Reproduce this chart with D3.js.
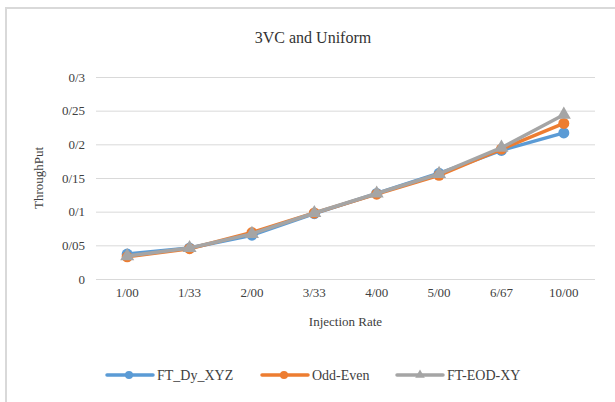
<!DOCTYPE html>
<html>
<head>
<meta charset="utf-8">
<script src="https://cdn.jsdelivr.net/npm/d3@7"></script>
<style>
  body { margin: 0; background: #fff; }
  svg { display: block; }
  svg text { font-family: "Liberation Serif", "Times New Roman", serif; }
</style>
</head>
<body>
<script>
// categories (injection rate) and the three series
const rates = ["1/00", "1/33", "2/00", "3/33", "4/00", "5/00", "6/67", "10/00"];
const ftDyXYZ = [0.037, 0.046, 0.065, 0.097, 0.127, 0.157, 0.191, 0.217];
const oddEven = [0.033, 0.045, 0.069, 0.098, 0.126, 0.154, 0.193, 0.231];
const ftEodXY = [0.034, 0.046, 0.067, 0.098, 0.127, 0.156, 0.195, 0.244];
const yTicks = [0, 0.05, 0.1, 0.15, 0.2, 0.25, 0.3];
const yTickLabels = ["0", "0/05", "0/1", "0/15", "0/2", "0/25", "0/3"];

const series = [
    {name: "FT_Dy_XYZ", values: ftDyXYZ, color: "#5B9BD5", marker: "circle"},
    {name: "Odd-Even", values: oddEven, color: "#ED7D31", marker: "circle"},
    {name: "FT-EOD-XY", values: ftEodXY, color: "#A5A5A5", marker: "triangle"}
];

function main(){
    const width = 615;
    const height = 402;
    const serif = "Liberation Serif";

    const svg = d3.select("body").append("svg")
        .attr("width", width)
        .attr("height", height);

    //outer chart border (right and bottom run off the picture)
    svg.append("rect")
        .attr("x", 6).attr("y", 8)
        .attr("width", 640).attr("height", 420)
        .attr("fill", "none")
        .attr("stroke", "#D9D9D9")
        .attr("stroke-width", 2);

    svg.append("text")
        .attr("x", 313).attr("y", 43)
        .attr("text-anchor", "middle")
        .attr("font-family", serif)
        .attr("font-size", "16px")
        .attr("fill", "#333")
        .text("3VC and Uniform");

    const xScale = d3.scaleBand().domain(rates).range([96, 595]);
    const yScale = d3.scaleLinear().domain([0, 0.3]).range([279, 77]);

    //gridlines + y labels
    const yAxis = svg.append("g")
        .attr("transform", "translate(96,0)")
        .call(d3.axisLeft(yScale).tickValues(yTicks)
            .tickSize(-(595 - 96))
            .tickPadding(11)
            .tickFormat((d, i) => yTickLabels[i]));
    yAxis.attr("font-family", serif);
    yAxis.select(".domain").remove();
    yAxis.selectAll("line").attr("stroke", "#D9D9D9");
    yAxis.selectAll("text")
        .attr("font-size", "13px")
        .attr("fill", "#404040");

    //x labels
    const xAxis = svg.append("g")
        .attr("transform", "translate(0,279)")
        .call(d3.axisBottom(xScale).tickSize(0).tickPadding(9));
    xAxis.attr("font-family", serif);
    xAxis.select(".domain").remove();
    xAxis.selectAll("text")
        .attr("font-size", "13px")
        .attr("fill", "#404040");

    svg.append("text")
        .attr("x", 345.5).attr("y", 326)
        .attr("text-anchor", "middle")
        .attr("font-family", serif)
        .attr("font-size", "13px")
        .attr("fill", "#404040")
        .text("Injection Rate");

    svg.append("text")
        .attr("transform", "translate(43,178) rotate(-90)")
        .attr("text-anchor", "middle")
        .attr("font-family", serif)
        .attr("font-size", "13px")
        .attr("fill", "#404040")
        .text("ThroughPut");

    const cx = i => xScale(rates[i]) + xScale.bandwidth() / 2;
    const line = d3.line().x((d, i) => cx(i)).y(d => yScale(d));
    const tri = d3.symbol().type(d3.symbolTriangle).size(85);

    series.forEach(s => {
        const g = svg.append("g");
        g.append("path")
            .datum(s.values)
            .attr("fill", "none")
            .attr("stroke", s.color)
            .attr("stroke-width", 3.5)
            .attr("stroke-linejoin", "round")
            .attr("d", line);
        if (s.marker == "circle") {
            g.selectAll("circle")
                .data(s.values)
                .enter().append("circle")
                .attr("cx", (d, i) => cx(i))
                .attr("cy", d => yScale(d))
                .attr("r", 5.5)
                .attr("fill", s.color);
        } else {
            g.selectAll("path.m")
                .data(s.values)
                .enter().append("path")
                .attr("class", "m")
                .attr("transform", (d, i) => "translate(" + cx(i) + "," + yScale(d) + ")")
                .attr("d", tri)
                .attr("fill", s.color);
        }
    });

    //legend
    const legendX = [107, 262, 397];
    series.forEach((s, i) => {
        const g = svg.append("g").attr("transform", "translate(" + legendX[i] + ",375)");
        g.append("line")
            .attr("x1", 0).attr("x2", 46)
            .attr("stroke", s.color)
            .attr("stroke-width", 3.5)
            .attr("stroke-linecap", "round");
        if (s.marker == "circle") {
            g.append("circle").attr("cx", 22).attr("r", 4).attr("fill", s.color);
        } else {
            g.append("path").attr("transform", "translate(23,0)")
                .attr("d", d3.symbol().type(d3.symbolTriangle).size(40))
                .attr("fill", s.color);
        }
        g.append("text")
            .attr("x", 50).attr("y", 5)
            .attr("font-family", serif)
            .attr("font-size", "14px")
            .attr("fill", "#404040")
            .text(s.name);
    });
}
main();
</script>
</body>
</html>
